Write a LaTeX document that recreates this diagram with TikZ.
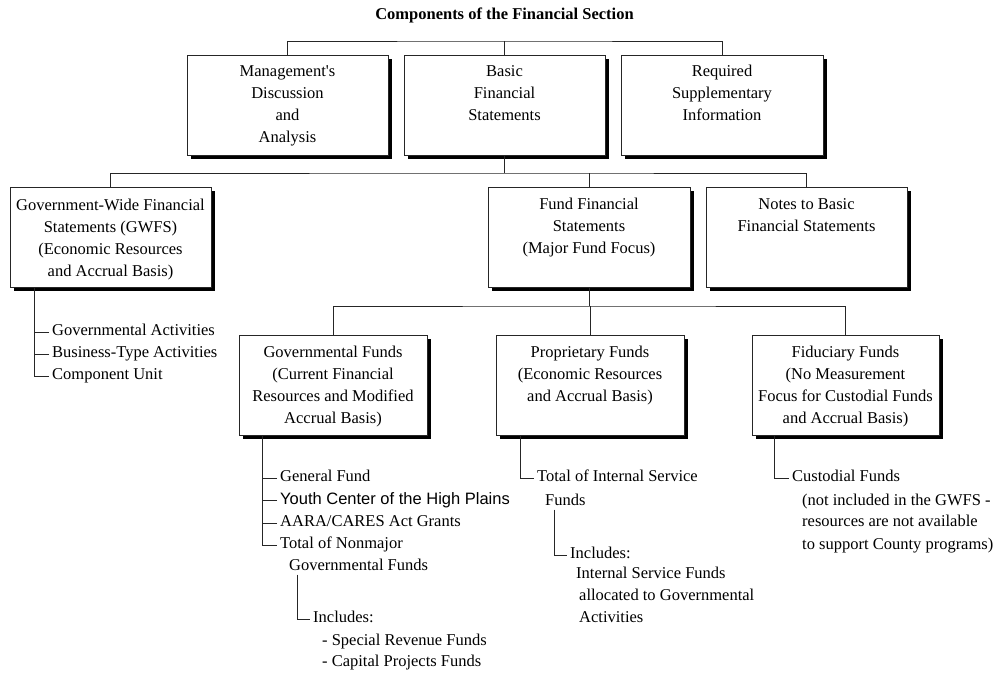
\documentclass[tikz,border=0pt]{standalone}
\usepackage{fontspec}
\setmainfont{Liberation Serif}[Ligatures=TeXOff]
\newfontfamily\arialfam{Liberation Sans}
\usetikzlibrary{shadows}
\newcommand\fs{\fontsize{16.5}{22}\selectfont}
\newcommand\afs{\arialfam\fontsize{16.5}{22}\selectfont}
\tikzset{
  conn/.style={draw=black!85, line width=1pt},
  fbox/.style={draw=black!85, line width=1pt, fill=white, inner sep=0pt,
    minimum height=100pt,
    drop shadow={shadow xshift=3.5pt, shadow yshift=-3.5pt, fill=black, opacity=1}},
  btext/.style={anchor=north, inner sep=0pt, align=center, font=\fs},
  li/.style={anchor=west, inner xsep=3pt, inner ysep=0pt, text height=11pt, text depth=4pt, font=\fs},
}
\begin{document}
\begin{tikzpicture}[x=1pt, y=-1pt]
\useasboundingbox[fill=white] (0,0) rectangle (997,675);

\node[font=\fs\bfseries, anchor=base, inner sep=0pt] (title) at (504.5,19) {Components of the Financial Section};

% top row
\node[fbox, minimum width=201pt] (mda) at (287.5,105) {};
\node[fbox, minimum width=201pt] (bfs) at (504.5,105) {};
\node[fbox, minimum width=202pt] (rsi) at (722,105) {};
% second row
\node[fbox, minimum width=201pt] (gwfs) at (110.5,237.5) {};
\node[fbox, minimum width=202pt] (ffs) at (589,237.5) {};
\node[fbox, minimum width=201pt] (notes) at (806.5,237.5) {};
% third row
\node[fbox, minimum width=188pt] (govf) at (333,385) {};
\node[fbox, minimum width=188pt] (propf) at (590,385) {};
\node[fbox, minimum width=187pt] (fidf) at (845.5,385) {};

% box texts
\node[btext] (mdat) at ([yshift=-6.5pt]mda.north) {\strut Management's\\Discussion\\and\\Analysis};
\node[btext] (bfst) at ([yshift=-6.5pt]bfs.north) {\strut Basic\\Financial\\Statements};
\node[btext] (rsit) at ([yshift=-6.5pt]rsi.north) {\strut Required\\Supplementary\\Information};
\node[btext] (gwfst) at ([yshift=-8pt]gwfs.north) {\strut Government-Wide Financial\\Statements (GWFS)\\(Economic Resources\\and Accrual Basis)};
\node[btext] (ffst) at ([yshift=-6.5pt]ffs.north) {\strut Fund Financial\\Statements\\(Major Fund Focus)};
\node[btext] (notest) at ([yshift=-6.5pt]notes.north) {\strut Notes to Basic\\Financial Statements};
\node[btext] (govft) at ([yshift=-7.5pt]govf.north) {\strut Governmental Funds\\(Current Financial\\Resources and Modified\\Accrual Basis)};
\node[btext] (propft) at ([yshift=-7pt]propf.north) {\strut Proprietary Funds\\(Economic Resources\\and Accrual Basis)};
\node[btext] (fidft) at ([yshift=-7.5pt]fidf.north) {\strut Fiduciary Funds\\(No Measurement\\Focus for Custodial Funds\\and Accrual Basis)};

% tree connectors
\coordinate (bar1) at (504.5,41);
\draw[conn] (mda.north) |- (bar1) -| (rsi.north);
\draw[conn] (bfs.north) -- (bfs.north |- bar1);
\coordinate (bar2) at (504.5,173);
\draw[conn] (bfs.south) -- (bar2);
\draw[conn] (gwfs.north) |- (bar2) -| (notes.north);
\draw[conn] (ffs.north) -- (ffs.north |- bar2);
\coordinate (bar3) at (589,306);
\draw[conn] (ffs.south) -- (bar3);
\draw[conn] (govf.north) |- (bar3) -| (fidf.north);
\draw[conn] (propf.north) -- (propf.north |- bar3);

% GWFS list
\coordinate (gt) at ([xshift=25pt]gwfs.south west);
\node[li] (ga) at (49,332) {Governmental Activities};
\node[li] (bt) at (49,354) {Business-Type Activities};
\node[li] (cu) at (49,376) {Component Unit};
\draw[conn] (gt) |- (cu.west);
\draw[conn] (ga.west) -- (ga.west -| gt);
\draw[conn] (bt.west) -- (bt.west -| gt);

% Governmental funds list
\coordinate (gft) at ([xshift=24pt]govf.south west);
\node[li] (gf) at (277,478) {General Fund};
\node[li, font=\afs] (yc) at (277,500.5) {Youth Center of the High Plains};
\node[li] (aa) at (277,523) {AARA/CARES Act Grants};
\node[li] (tn) at (277,545) {Total of Nonmajor};
\node[li] (tn2) at (286,567) {Governmental Funds};
\draw[conn] (gft) |- (tn.west);
\draw[conn] (gf.west) -- (gf.west -| gft);
\draw[conn] (yc.west) -- (yc.west -| gft);
\draw[conn] (aa.west) -- (aa.west -| gft);
\coordinate (gst) at ([xshift=11pt]tn2.south west);
\node[li] (inc1) at (310,619) {Includes:};
\draw[conn] (gst) |- (inc1.west);
\node[li] (srf) at (319,642) {- Special Revenue Funds};
\node[li] (cpf) at (319,663) {- Capital Projects Funds};

% Proprietary funds list
\coordinate (pt) at ([xshift=25pt]propf.south west);
\node[li] (tis) at (534,478) {Total of Internal Service};
\node[li] (tis2) at (542,502) {Funds};
\draw[conn] (pt) |- (tis.west);
\coordinate (pst) at ([xshift=12pt]tis2.south west);
\node[li] (inc2) at (567,555) {Includes:};
\draw[conn] (pst) |- (inc2.west);
\node[li] (isf) at (573,575) {Internal Service Funds};
\node[li] (alg) at (576,597) {allocated to Governmental};
\node[li] (act) at (576,619) {Activities};

% Fiduciary funds list
\coordinate (ft) at ([xshift=23pt]fidf.south west);
\node[li] (cf) at (789,478) {Custodial Funds};
\draw[conn] (ft) |- (cf.west);
\node[li] (n1) at (799,502) {(not included in the GWFS -};
\node[li] (n2) at (799,523) {resources are not available};
\node[li] (n3) at (799,546) {to support County programs)};
\end{tikzpicture}
\end{document}
